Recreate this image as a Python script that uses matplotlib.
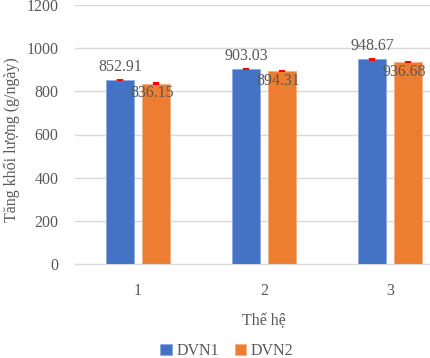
import numpy as np
import matplotlib.pyplot as plt

generations = ["1", "2", "3"]
dvn1 = [852.91, 903.03, 948.67]
dvn2 = [836.15, 894.31, 936.68]
err1 = [6, 6, 6]
err2 = [6, 6, 6]

BLUE = "#4472C4"
ORANGE = "#ED7D31"
TEXT = "#595959"

plt.rcParams["font.family"] = ["Liberation Serif", "DejaVu Serif"]

fig = plt.figure(figsize=(4.31, 3.58), dpi=100)
# chart is cropped on the right in the reference, so the axes run past the figure edge
ax = fig.add_axes([75 / 431, 94 / 358, 378 / 431, 259 / 358])

x = np.arange(1, len(generations) + 1)
width = 0.222
off = 0.143

ax.bar(x - off, dvn1, width=width, color=BLUE, edgecolor="#8faadc", linewidth=0.6, label="DVN1", zorder=2)
ax.bar(x + off, dvn2, width=width, color=ORANGE, edgecolor="#f4b183", linewidth=0.6, label="DVN2", zorder=2)
ax.errorbar(x - off, dvn1, yerr=err1, fmt="none", ecolor="red", elinewidth=4.5, capsize=0, zorder=3)
ax.errorbar(x + off, dvn2, yerr=err2, fmt="none", ecolor="red", elinewidth=4.5, capsize=0, zorder=3)

for xi, v in zip(x - off, dvn1):
    ax.text(xi, v + 25, f"{v:.2f}", ha="center", va="bottom", fontsize=11.5, color=TEXT, zorder=4)
for xi, v in zip(x + off, dvn2):
    ax.text(xi - 0.03, v - 8, f"{v:.2f}", ha="center", va="top", fontsize=11.5, color=TEXT, zorder=4)

ax.set_xlim(0.5, 3.5)
ax.set_ylim(0, 1200)
ax.set_yticks(np.arange(0, 1201, 200))
ax.set_xticks(x)
ax.set_xticklabels(generations)
ax.tick_params(axis="both", length=0, labelsize=11.5, colors=TEXT)
ax.tick_params(axis="x", pad=14)
ax.tick_params(axis="y", pad=12)
ax.yaxis.grid(True, color="#d9d9d9", linewidth=1, zorder=0)
ax.set_axisbelow(True)
for side in ["left", "right", "top"]:
    ax.spines[side].set_visible(False)
ax.spines["bottom"].set_color("#d9d9d9")

ax.set_xlabel("Thế hệ", fontsize=11.5, color=TEXT, labelpad=10)
fig.text(12 / 431, 1 - 140 / 358, "Tăng khối lượng (g/ngày)", rotation=90, ha="center", va="center",
         fontsize=11.5, color=TEXT)

handles, labels = ax.get_legend_handles_labels()
fig.legend(handles, labels, loc="center", bbox_to_anchor=(227 / 431, 1 - 351 / 358), ncol=2, frameon=False,
           fontsize=11.5, labelcolor=TEXT, handlelength=0.7, handleheight=0.7, handletextpad=0.3, columnspacing=1.0)

fig.savefig("out.png", dpi=100)
